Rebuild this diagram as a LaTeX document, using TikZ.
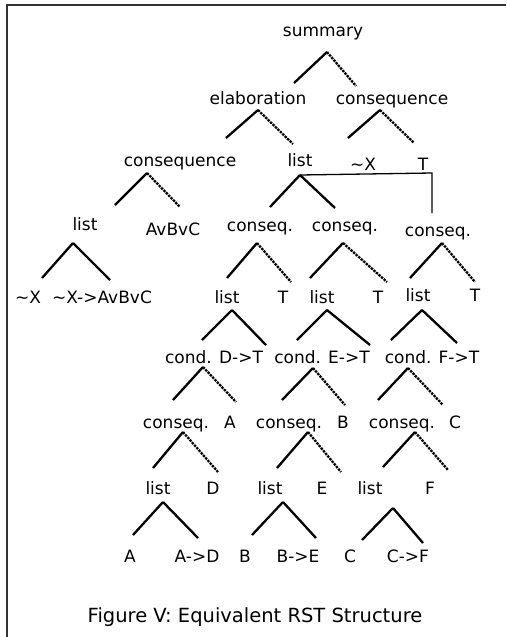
\documentclass[tikz,border=0pt]{standalone}
\usepackage{fontspec}
\setmainfont{DejaVu Sans}
\begin{document}
\begin{tikzpicture}[x=1pt,y=-1pt,
  lbl/.style={anchor=base,inner sep=0pt,font=\fontsize{17}{20}\selectfont},
  captext/.style={anchor=base,inner sep=0pt,font=\fontsize{19.5}{23}\selectfont},
  solidl/.style={line width=2.3pt},
  dotl/.style={line width=2.3pt,dash pattern=on 2.4pt off 1pt},
  thinl/.style={line width=1.3pt},
  framel/.style={line width=1.8pt}]
\useasboundingbox (0,0) rectangle (506,637);
% frame
\coordinate (fTR) at (506,5);
\coordinate (fTL) at (7,5);
\coordinate (fBL) at (7,637);
\draw[framel,black!80] (fTR) -- (fTL) -- (fBL);

% labels
\node[lbl] (summary) at (323,36) {summary};
\node[lbl] (elab) at (258,104) {elaboration};
\node[lbl] (conseqR) at (392,104) {consequence};
\node[lbl] (conseqL) at (180,166) {consequence};
\node[lbl] (listTop) at (300,166) {list};
\node[lbl] (negX) at (363,170) {\textasciitilde X};
\node[lbl] (topT) at (423,170) {T};
\node[lbl] (listL) at (85,230) {list};
\node[lbl] (avbvc) at (173,235) {AvBvC};
\node[lbl] (cq1) at (260,231) {conseq.};
\node[lbl] (cq2) at (345,231) {conseq.};
\node[lbl] (cq3) at (438,236) {conseq.};
\node[lbl] (nx) at (28,303) {\textasciitilde X};
\node[lbl] (nximp) at (102,303) {\textasciitilde X->AvBvC};
\node[lbl] (la) at (227,303) {list};
\node[lbl] (ta) at (283,303) {T};
\node[lbl] (lb) at (322,303) {list};
\node[lbl] (tb) at (378,303) {T};
\node[lbl] (lc) at (418,301) {list};
\node[lbl] (tc) at (475,301) {T};
\node[lbl] (cd) at (214,363) {cond. D->T};
\node[lbl] (ce) at (322,363) {cond. E->T};
\node[lbl] (cf) at (432,363) {cond. F->T};
\node[lbl] (qa) at (176,428) {conseq.};
\node[lbl] (a1) at (230,428) {A};
\node[lbl] (qb) at (289,428) {conseq.};
\node[lbl] (b1) at (343,428) {B};
\node[lbl] (qc) at (402,428) {conseq.};
\node[lbl] (c1) at (455,428) {C};
\node[lbl] (lla) at (158,494) {list};
\node[lbl] (d1) at (213,494) {D};
\node[lbl] (llb) at (270,494) {list};
\node[lbl] (e1) at (322,494) {E};
\node[lbl] (llc) at (370,494) {list};
\node[lbl] (f1) at (430,494) {F};
\node[lbl] (a2) at (130,562) {A};
\node[lbl] (ad) at (197,562) {A->D};
\node[lbl] (b2) at (245,562) {B};
\node[lbl] (be) at (298,562) {B->E};
\node[lbl] (c2) at (350,562) {C};
\node[lbl] (cfimp) at (408,562) {C->F};
\node[captext] (caption) at (255,622) {Figure V: Equivalent RST Structure};

% wedge coordinates: apex, left end, right end
\foreach \n/\ax/\ay/\lx/\ly/\rx/\ry in {
  w1/327/52/294/83/356/86,
  w2/258/110/226/138/293/144,
  w3/380/110/348/138/414/143,
  w4/147/173/115/205/180/207,
  w5/300/175/270/207/335/208,
  w6/73/243/42/278/110/280,
  w7/257/243/227/278/291/282,
  w8/343/243/310/278/387/282,
  w9/442/243/410/278/475/282,
  w10/232/310/202/340/266/345,
  w11/327/310/297/340/370/345,
  w12/422/310/391/340/457/343,
  w13/203/367/173/400/236/402,
  w14/313/368/282/400/345/405,
  w15/408/368/378/400/443/405,
  w16/183/432/153/468/218/472,
  w17/308/432/277/468/341/472,
  w18/415/432/383/467/448/470,
  w19/163/502/133/535/198/538,
  w20/283/502/252/535/316/538,
  w21/393/508/362/540/423/543}{
  \coordinate (\n A) at (\ax,\ay);
  \coordinate (\n L) at (\lx,\ly);
  \coordinate (\n R) at (\rx,\ry);
}
% solid left branches
\foreach \n in {w1,w2,w3,w4,w5,w6,w7,w8,w9,w10,w11,w12,w13,w14,w15,w16,w17,w18,w19,w20,w21}
  \draw[solidl] (\n A) -- (\n L);
% dotted right branches
\foreach \n in {w1,w2,w3,w4,w7,w8,w9,w13,w14,w15,w16,w17,w18}
  \draw[dotl] (\n A) -- (\n R);
% solid right branches (lists)
\foreach \n in {w5,w6,w10,w11,w12,w19,w20,w21}
  \draw[solidl] (\n A) -- (\n R);

% bracket from list to third conseq.
\coordinate (brC) at (432,173);
\coordinate (brE) at (432,213);
\draw[thinl] (w5A) -- (brC) -- (brE);
\end{tikzpicture}
\end{document}
